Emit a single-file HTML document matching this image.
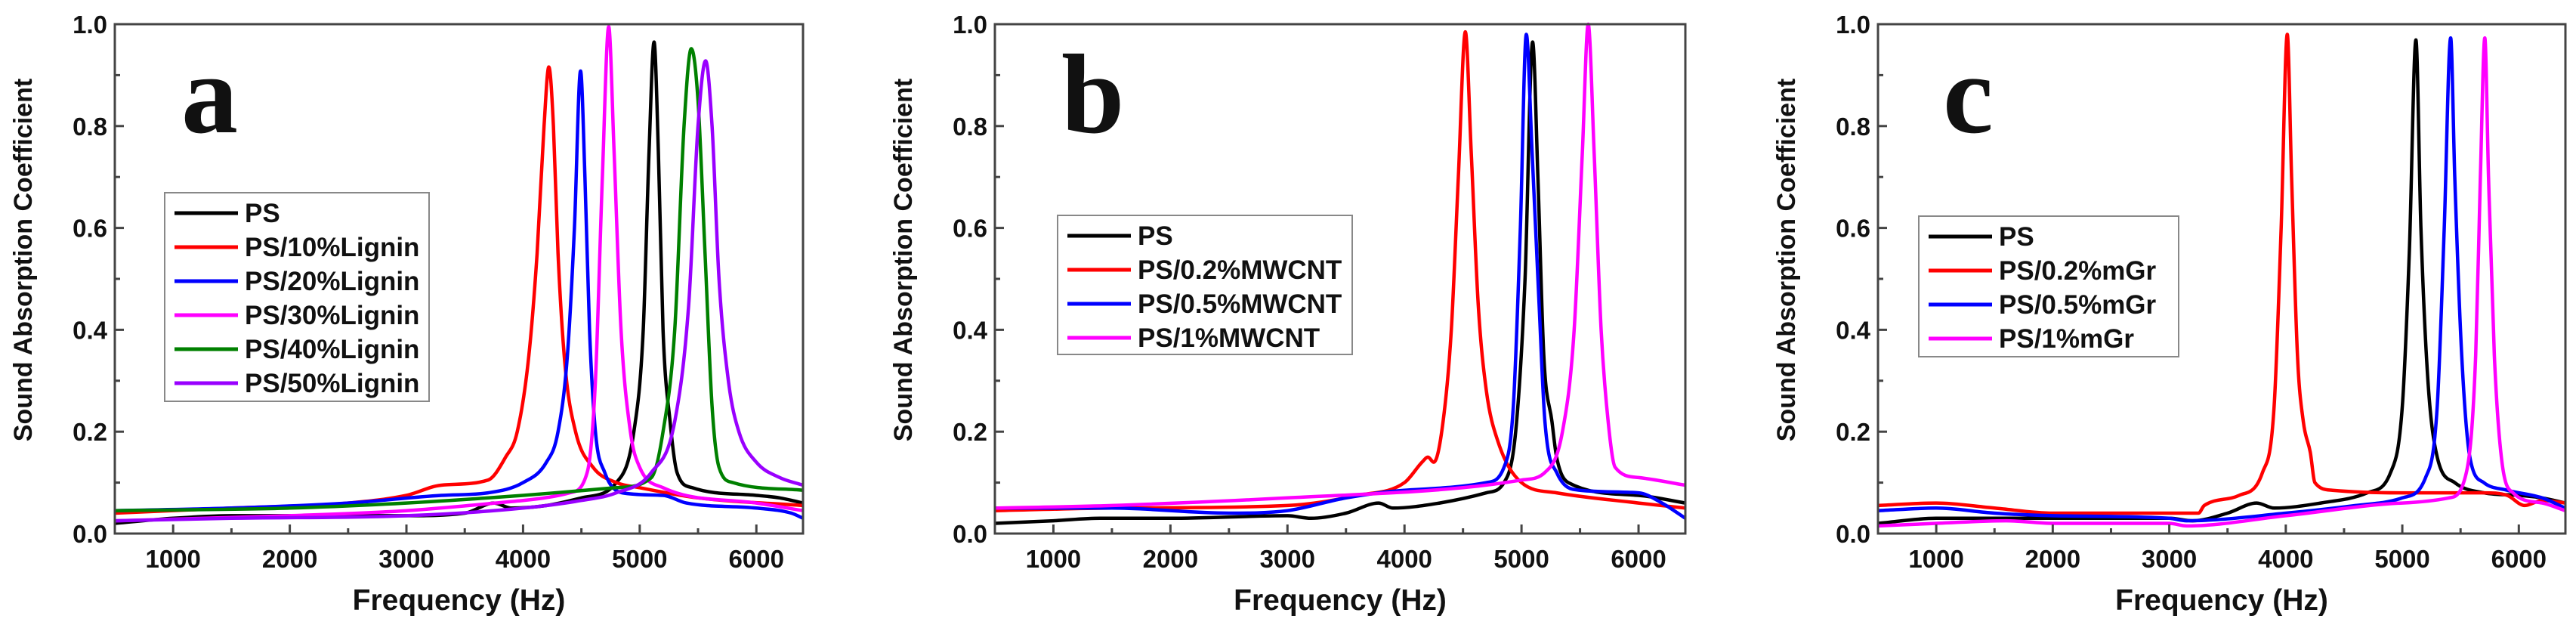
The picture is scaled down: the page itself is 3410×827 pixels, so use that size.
<!DOCTYPE html>
<html><head><meta charset="utf-8">
<style>
html,body{margin:0;padding:0;background:#fff;}
svg{display:block;}
text{font-family:"Liberation Sans",sans-serif;font-weight:bold;fill:#111;}
.lbl{font-family:"Liberation Serif",serif;}
</style></head>
<body>
<svg id="fig" width="3410" height="827" viewBox="0 0 3410 827" xmlns="http://www.w3.org/2000/svg"></svg>
<script>
// ---- data (frequency Hz, absorption coefficient) ----
const xTicks = [1000,2000,3000,4000,5000,6000];
const yTicks = [0.0,0.2,0.4,0.6,0.8,1.0];
const yTickLabels = ["0.0","0.2","0.4","0.6","0.8","1.0"];

const aNames = ["PS","PS/10%Lignin","PS/20%Lignin","PS/30%Lignin","PS/40%Lignin","PS/50%Lignin"];
const aPS = [[500,.02],[1000,.03],[1500,.035],[2000,.035],[3000,.035],[3500,.04],[3750,.06],[3900,.05],[4200,.055],[4500,.07],[4800,.1],[4950,.2],[5030,.4],[5080,.75],[5123,.965],[5160,.75],[5200,.4],[5260,.22],[5320,.12],[5450,.09],[6000,.075],[6200,.07],[6400,.06]];
const aL10 = [[500,.04],[1500,.05],[2500,.06],[3000,.075],[3300,.095],[3700,.105],[3850,.15],[3950,.2],[4050,.35],[4120,.55],[4180,.8],[4221,.916],[4260,.8],[4300,.55],[4360,.33],[4450,.2],[4600,.13],[4800,.1],[5000,.09],[5500,.07],[6400,.055]];
const aL20 = [[500,.045],[1500,.05],[2500,.06],[3300,.075],[3700,.08],[4000,.1],[4200,.14],[4300,.2],[4380,.35],[4440,.6],[4493,.908],[4530,.7],[4570,.4],[4620,.2],[4700,.12],[4850,.08],[5200,.075],[5400,.06],[6000,.05],[6300,.04],[6400,.03]];
const aL30 = [[500,.025],[2000,.035],[3000,.045],[4000,.065],[4400,.08],[4550,.12],[4620,.3],[4680,.7],[4734,.995],[4780,.75],[4840,.4],[4920,.2],[5000,.13],[5200,.09],[6000,.06],[6400,.045]];
const aL40 = [[500,.045],[2000,.05],[3000,.06],[4000,.075],[4800,.09],[5100,.11],[5200,.2],[5300,.4],[5380,.8],[5442,.952],[5500,.85],[5560,.55],[5620,.25],[5680,.13],[5800,.1],[6400,.085]];
const aL50 = [[500,.025],[1500,.03],[3000,.035],[4000,.05],[4500,.065],[4800,.08],[5100,.12],[5300,.22],[5420,.45],[5500,.8],[5565,.928],[5620,.8],[5680,.5],[5760,.3],[5850,.2],[6000,.14],[6200,.11],[6400,.095]];

const bNames = ["PS","PS/0.2%MWCNT","PS/0.5%MWCNT","PS/1%MWCNT"];
const bPS = [[500,.02],[1000,.025],[1400,.03],[2000,.03],[3000,.035],[3200,.03],[3500,.04],[3780,.06],[3900,.05],[4300,.06],[4700,.08],[4850,.1],[4950,.2],[5030,.5],[5095,.965],[5140,.7],[5190,.35],[5260,.22],[5300,.15],[5400,.1],[6000,.075],[6400,.06]];
const bM02 = [[500,.045],[1500,.05],[3000,.055],[3600,.075],[4000,.1],[4150,.14],[4200,.15],[4250,.14],[4330,.22],[4400,.4],[4460,.7],[4520,.985],[4570,.75],[4630,.45],[4700,.28],[4800,.18],[5000,.1],[5300,.08],[6000,.06],[6400,.05]];
const bM05 = [[500,.05],[1500,.05],[2500,.04],[3000,.045],[3500,.07],[4000,.085],[4700,.1],[4850,.13],[4930,.25],[4990,.6],[5041,.98],[5090,.75],[5150,.45],[5200,.22],[5300,.12],[5500,.085],[6000,.08],[6200,.06],[6400,.03]];
const bM1 = [[500,.05],[1500,.055],[3000,.07],[4500,.09],[5000,.105],[5200,.12],[5350,.2],[5450,.4],[5520,.75],[5570,1.0],[5620,.75],[5680,.4],[5740,.22],[5800,.13],[6000,.11],[6400,.095]];

const cNames = ["PS","PS/0.2%mGr","PS/0.5%mGr","PS/1%mGr"];
const cPS = [[500,.02],[1000,.03],[1500,.03],[2500,.03],[3000,.03],[3200,.025],[3500,.04],[3750,.06],[3900,.05],[4300,.06],[4700,.08],[4900,.12],[5000,.25],[5060,.55],[5117,.969],[5160,.6],[5220,.3],[5300,.15],[5450,.1],[5700,.08],[6000,.075],[6200,.07],[6400,.06]];
const cG02 = [[500,.055],[1000,.06],[1500,.05],[2000,.04],[3000,.04],[3250,.04],[3300,.055],[3600,.075],[3800,.12],[3900,.25],[3960,.6],[4013,.98],[4050,.7],[4100,.35],[4150,.22],[4210,.16],[4250,.1],[4400,.085],[5000,.08],[5700,.08],[5900,.075],[6050,.055],[6200,.065],[6400,.06]];
const cG05 = [[500,.045],[1000,.05],[1500,.04],[2000,.035],[3000,.03],[3150,.025],[4000,.04],[4600,.055],[5000,.07],[5200,.11],[5300,.25],[5360,.6],[5415,.973],[5450,.7],[5510,.35],[5580,.15],[5700,.1],[5900,.085],[6200,.07],[6400,.05]];
const cG1 = [[500,.015],[1000,.02],[1600,.025],[2000,.02],[3000,.02],[3150,.015],[4000,.035],[5000,.06],[5400,.07],[5550,.12],[5630,.35],[5670,.7],[5708,.973],[5740,.7],[5790,.35],[5850,.15],[5950,.08],[6200,.06],[6400,.045]];

const colA = ["#000","#ff0000","#0000ff","#ff00ff","#008000","#9900ff"];
const colB = ["#000","#ff0000","#0000ff","#ff00ff"];

const NS = "http://www.w3.org/2000/svg";
const fig = document.getElementById('fig');
function mk(tag, attrs, parent){
  const e = document.createElementNS(NS, tag);
  for (const k in attrs) e.setAttribute(k, attrs[k]);
  (parent||fig).appendChild(e);
  return e;
}
function monoPath(P){
  const n = P.length;
  const d = [], m = [];
  for (let i = 0; i < n-1; i++) d.push((P[i+1][1]-P[i][1])/(P[i+1][0]-P[i][0]));
  m[0] = d[0]; m[n-1] = d[n-2];
  for (let i = 1; i < n-1; i++) m[i] = (d[i-1]*d[i] <= 0) ? 0 : (d[i-1]+d[i])/2;
  for (let i = 0; i < n-1; i++){
    if (d[i] === 0){ m[i] = 0; m[i+1] = 0; continue; }
    const a = m[i]/d[i], b = m[i+1]/d[i], s = a*a+b*b;
    if (s > 9){ const t = 3/Math.sqrt(s); m[i] = t*a*d[i]; m[i+1] = t*b*d[i]; }
  }
  let s = 'M' + P[0][0].toFixed(1) + ',' + P[0][1].toFixed(1);
  for (let i = 0; i < n-1; i++){
    const h = (P[i+1][0]-P[i][0])/3;
    s += ' C' + (P[i][0]+h).toFixed(1) + ',' + (P[i][1]+m[i]*h).toFixed(1) + ' ' +
         (P[i+1][0]-h).toFixed(1) + ',' + (P[i+1][1]-m[i+1]*h).toFixed(1) + ' ' +
         P[i+1][0].toFixed(1) + ',' + P[i+1][1].toFixed(1);
  }
  return s;
}

function panel(id, L, R, letter, letterX, letterY, series, names, cols, leg){
  const T = 32, B = 706, X0 = 500, X1 = 6400;
  const sx = v => L + (v - X0) / (X1 - X0) * (R - L);
  const sy = v => B - v * (B - T);
  const g = mk('g', {});
  
  
  series.forEach((s, i) => {
    const p = mk('path', {d: monoPath(s.map(q => [sx(q[0]), sy(q[1])])), fill:'none', stroke: cols[i], 'stroke-width': 4.5, 'stroke-linejoin':'round'}, g);
    
    
  });
  const fr = mk('rect', {x:L, y:T, width:R-L, height:B-T, fill:'none', stroke:'#444', 'stroke-width':3}, g);
  
  
  for (let v = 1000; v <= 6000; v += 500){
    const len = (v % 1000 === 0) ? 12 : 7;
    mk('line', {x1:sx(v), x2:sx(v), y1:B, y2:B-len, stroke:'#444', 'stroke-width':3}, g);
  }
  xTicks.forEach(v => {
    const t = mk('text', {x:sx(v), y:751, 'font-size':33, 'text-anchor':'middle'}, g);
    t.textContent = v;
    
    
  });
  for (let k = 1; k < 10; k++){
    const len = (k % 2 === 0) ? 12 : 7;
    mk('line', {x1:L, x2:L+len, y1:sy(k/10), y2:sy(k/10), stroke:'#444', 'stroke-width':3}, g);
  }
  yTicks.forEach((v, i) => {
    const t = mk('text', {x:L-10, y:sy(v)+12, 'font-size':33, 'text-anchor':'end'}, g);
    t.textContent = yTickLabels[i];
    
    
  });
  const xt = mk('text', {x:(L+R)/2, y:807, 'font-size':39, 'text-anchor':'middle'}, g);
  xt.textContent = 'Frequency (Hz)';
  
  
  const yx = L - 110, yc = 344;
  const yt = mk('text', {x:yx, y:yc, 'font-size':34, 'text-anchor':'middle', transform:'rotate(-90 '+yx+' '+yc+')'}, g);
  yt.textContent = 'Sound Absorption Coefficient';
  
  
  const lt = mk('text', {x:letterX, y:letterY, 'font-size':150, class:'lbl'}, g);
  lt.textContent = letter;
  
  
  const lg = mk('g', {}, g);
  
  
  mk('rect', {x:leg.x, y:leg.y, width:leg.w, height:leg.h, fill:'#fff', stroke:'#888', 'stroke-width':2}, lg);
  names.forEach((n, i) => {
    const cy = leg.y + 27 + i * 45;
    const e = mk('g', {}, lg);
    
    
    mk('line', {x1:leg.x+13, x2:leg.x+97, y1:cy, y2:cy, stroke:cols[i], 'stroke-width':5}, e);
    const t = mk('text', {x:leg.x+106, y:cy+12, 'font-size':35}, e);
    t.textContent = n;
  });
}

panel('a', 152, 1063, 'a', 240, 175, [aPS,aL10,aL20,aL30,aL40,aL50], aNames, colA, {x:218, y:255, w:350, h:276});
panel('b', 1317, 2231, 'b', 1405, 175, [bPS,bM02,bM05,bM1], bNames, colB, {x:1400, y:285, w:390, h:184});
panel('c', 2486, 3396, 'c', 2572, 175, [cPS,cG02,cG05,cG1], cNames, colB, {x:2540, y:286, w:344, h:186});
</script>
</body></html>
